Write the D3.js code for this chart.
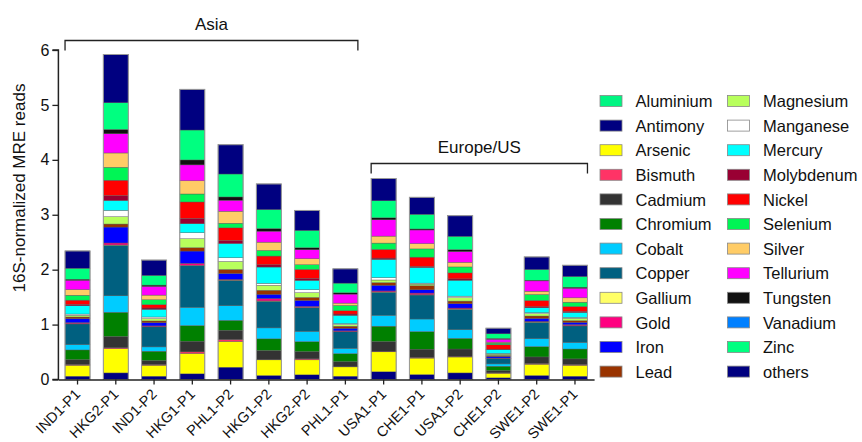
<!DOCTYPE html>
<html><head><meta charset="utf-8">
<script src="https://cdn.jsdelivr.net/npm/d3@7"></script>
<style>body{margin:0;background:#fff;} svg{display:block;font-family:"Liberation Sans",Arial,sans-serif;}</style>
</head><body>
<svg id="chart" width="862" height="442"></svg>
<script>
const samples = ["IND1-P1","HKG2-P1","IND1-P2","HKG1-P1","PHL1-P2","HKG1-P2","HKG2-P2","PHL1-P1","USA1-P1","CHE1-P1","USA1-P2","CHE1-P2","SWE1-P2","SWE1-P1"];
const metals = ["Aluminium","Antimony","Arsenic","Bismuth","Cadmium","Chromium","Cobalt","Copper","Gallium","Gold","Iron","Lead","Magnesium","Manganese","Mercury","Molybdenum","Nickel","Selenium","Silver","Tellurium","Tungsten","Vanadium","Zinc","others"];
const metalColors = ["#00F582","#000080","#FFFF00","#FF3366","#333333","#008000","#00CCFF","#006080","#FFFF66","#FF0080","#0000FF","#993300","#B8FF5C","#FFFFFF","#00FFFF","#990033","#FF0000","#00F555","#FFCC66","#FF00FF","#111111","#0080FF","#00FF80","#000080"];
const yTicks = [0,1,2,3,4,5,6];

const aluminium  = [0,0,0,0,0,0,0,0,0,0,0,0,0,0];
const antimony   = [0.06,0.12,0.06,0.103,0.224,0.073,0.085,0.06,0.14,0.09,0.12,0.03,0.073,0.06];
const arsenic    = [0.20,0.44,0.20,0.37,0.467,0.285,0.273,0.17,0.364,0.30,0.29,0.085,0.206,0.20];
const bismuth    = [0.012,0.018,0.012,0.03,0.036,0.006,0.018,0.006,0.012,0.012,0.012,0.006,0.012,0.012];
const cadmium    = [0.09,0.206,0.073,0.194,0.17,0.164,0.133,0.09,0.176,0.15,0.133,0.042,0.12,0.103];
const chromium   = [0.176,0.44,0.17,0.285,0.18,0.212,0.18,0.145,0.279,0.32,0.194,0.079,0.188,0.18];
const cobalt     = [0.097,0.30,0.079,0.333,0.267,0.20,0.188,0.097,0.20,0.23,0.158,0.042,0.145,0.12];
const copper     = [0.376,0.92,0.364,0.758,0.46,0.485,0.43,0.30,0.418,0.436,0.37,0.097,0.297,0.30];
const gallium    = [0.006,0.006,0.006,0.006,0.006,0.006,0.006,0.006,0.006,0.006,0.006,0.003,0.006,0.006];
const gold       = [0.018,0.036,0.012,0.036,0.012,0.042,0.018,0.012,0.018,0.03,0.018,0.006,0.012,0.018];
const iron       = [0.073,0.29,0.06,0.224,0.109,0.079,0.109,0.048,0.103,0.06,0.079,0.03,0.055,0.042];
const lead       = [0.03,0.055,0.03,0.06,0.073,0.073,0.055,0.036,0.048,0.073,0.048,0.018,0.042,0.03];
const magnesium  = [0.03,0.133,0.042,0.164,0.145,0.09,0.085,0.03,0.048,0.03,0.06,0.024,0.042,0.042];
const manganese  = [0.024,0.115,0.03,0.109,0.067,0.036,0.055,0.018,0.042,0.018,0.03,0.012,0.018,0.018];
const mercury    = [0.15,0.18,0.14,0.164,0.26,0.297,0.17,0.15,0.333,0.285,0.29,0.067,0.09,0.09];
const molybdenum = [0.024,0.09,0.024,0.097,0.055,0.042,0.036,0.024,0.024,0.018,0.024,0.012,0.018,0.018];
const nickel     = [0.079,0.28,0.06,0.30,0.23,0.158,0.164,0.06,0.158,0.17,0.109,0.079,0.115,0.09];
const selenium   = [0.09,0.236,0.09,0.145,0.085,0.103,0.085,0.097,0.115,0.15,0.109,0.03,0.109,0.079];
const silver     = [0.103,0.26,0.085,0.24,0.218,0.15,0.109,0.042,0.127,0.097,0.085,0.018,0.06,0.079];
const tellurium  = [0.17,0.35,0.158,0.29,0.20,0.20,0.164,0.164,0.297,0.248,0.194,0.055,0.188,0.176];
const tungsten   = [0.018,0.079,0.024,0.09,0.06,0.048,0.036,0.024,0.036,0.018,0.036,0.012,0.012,0.018];
const vanadium   = [0,0,0,0,0,0,0,0,0,0,0,0,0,0];
const zinc       = [0.20,0.485,0.176,0.545,0.418,0.345,0.315,0.176,0.31,0.267,0.242,0.085,0.194,0.194];
const others     = [0.315,0.879,0.28,0.74,0.533,0.467,0.364,0.26,0.406,0.31,0.376,0.103,0.23,0.206];

const seriesValues = [aluminium,antimony,arsenic,bismuth,cadmium,chromium,cobalt,copper,gallium,gold,iron,lead,magnesium,manganese,mercury,molybdenum,nickel,selenium,silver,tellurium,tungsten,vanadium,zinc,others];

const table = samples.map((s,i)=>{
  const row = {sample:s};
  metals.forEach((m,j)=>row[m]=seriesValues[j][i]);
  return row;
});

const svg = d3.select("#chart");
const x = d3.scaleBand().domain(samples).range([58.4,594.1]).paddingInner(0.347).paddingOuter(0.1735);
const y = d3.scaleLinear().domain([0,6]).range([379.5,50]);
const color = d3.scaleOrdinal().domain(metals).range(metalColors);

const stacked = d3.stack().keys(metals)(table);

const g = svg.append("g");
g.selectAll("g.layer").data(stacked).join("g").attr("class","layer")
  .attr("fill",d=>color(d.key))
  .selectAll("rect").data(d=>d).join("rect")
  .attr("x",d=>x(d.data.sample))
  .attr("width",x.bandwidth())
  .attr("y",d=>y(d[1]))
  .attr("height",d=>Math.max(0,y(d[0])-y(d[1])))
  .attr("stroke","#555").attr("stroke-width",0.4);

// outline of each bar
g.selectAll("rect.outline").data(table).join("rect").attr("class","outline")
  .attr("x",d=>x(d.sample)).attr("width",x.bandwidth())
  .attr("y",d=>y(d3.sum(metals,m=>d[m])))
  .attr("height",d=>y(0)-y(d3.sum(metals,m=>d[m])))
  .attr("fill","none").attr("stroke","#999").attr("stroke-width",1);

// y axis
const yAxis = svg.append("g").attr("transform","translate(58.4,0)")
  .call(d3.axisLeft(y).tickValues(yTicks).tickSize(6).tickPadding(3).tickFormat(d3.format("d")));
yAxis.select(".domain").attr("stroke","#222").attr("stroke-width",1.5).attr("d","M-6,50H0V379.5H-6");
yAxis.selectAll(".tick line").attr("stroke","#222").attr("stroke-width",1.3);
yAxis.selectAll("text").attr("font-size","16px").attr("fill","#111");

// x axis
const xAxis = svg.append("g").attr("transform","translate(0,379.5)")
  .call(d3.axisBottom(x).tickSize(5).tickSizeOuter(0));
xAxis.select(".domain").attr("stroke","#222").attr("stroke-width",1.5);
xAxis.selectAll(".tick line").attr("stroke","#222").attr("stroke-width",1.3);
xAxis.selectAll("text").attr("font-size","14.5px").attr("fill","#111")
  .attr("text-anchor","end").attr("y",0).attr("dy","0.35em")
  .attr("transform","translate(0,12) rotate(-45)");

// y label
svg.append("text").attr("transform","translate(25,188) rotate(-90)")
  .attr("text-anchor","middle").attr("font-size","17px").attr("fill","#111")
  .text("16S-normalized MRE reads");

// group brackets
const groups = [
  {name:"Asia", from:"IND1-P1", to:"PHL1-P1", yLine:40.5, yTxt:30},
  {name:"Europe/US", from:"USA1-P1", to:"SWE1-P1", yLine:163.5, yTxt:153}
];
groups.forEach(gr=>{
  const x0 = x(gr.from), x1 = x(gr.to)+x.bandwidth();
  svg.append("path").attr("d",`M${x0},${gr.yLine+10}V${gr.yLine}H${x1}V${gr.yLine+10}`)
    .attr("fill","none").attr("stroke","#222").attr("stroke-width",1.3);
  svg.append("text").attr("x",(x0+x1)/2).attr("y",gr.yTxt).attr("text-anchor","middle")
    .attr("font-size","17px").attr("fill","#111").text(gr.name);
});

// legend
const leg = svg.append("g");
metals.forEach((m,i)=>{
  const col = Math.floor(i/12), row = i%12;
  const lx = col===0 ? 600 : 727.5;
  const ly = 101.5 + row*24.6;
  leg.append("rect").attr("x",lx).attr("y",ly-6).attr("width",22).attr("height",11)
    .attr("fill",color(m)).attr("stroke","#888").attr("stroke-width",0.8);
  leg.append("text").attr("x",lx+35.5).attr("y",ly).attr("dy","0.35em")
    .attr("font-size","16.5px").attr("fill","#111").text(m);
});
</script>
</body></html>
